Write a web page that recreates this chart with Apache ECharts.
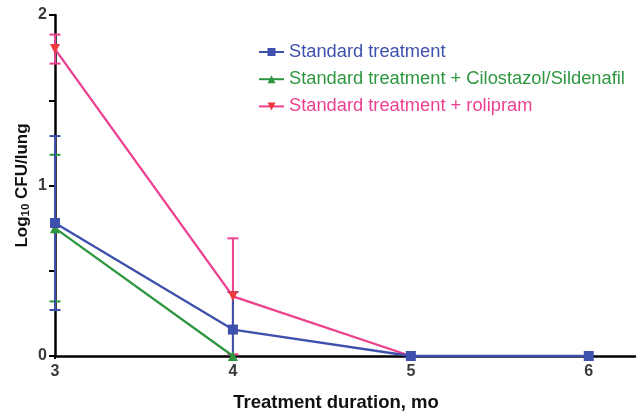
<!DOCTYPE html>
<html><head><meta charset="utf-8">
<script src="https://cdn.jsdelivr.net/npm/echarts@6/dist/echarts.min.js"></script>
<style>html,body{margin:0;padding:0;background:#fff}#c{width:643px;height:413px}</style>
</head><body><div id="c"></div>
<script>
const months = [3, 4, 5, 6];
const seriesNames = ['Standard treatment', 'Standard treatment + Cilostazol/Sildenafil', 'Standard treatment + rolipram'];
const stdMean = [0.78, 0.155, 0, 0];
const stdErr = [0.51, 0.22, 0, 0];
const ciloMean = [0.75, 0, null, null];
const ciloErr = [0.43, 0, null, null];
const roliMean = [1.80, 0.35, 0, null];
const roliErr = [0.085, 0.34, 0, null];
const xTicks = [3, 4, 5, 6];
const yTicks = [0, 0.5, 1, 1.5, 2];
const yLabels = [0, 1, 2];

const colors = ['#3d50ac', '#2f9640', '#ec3f8f'];
const markerColors = ['#3d50ac', '#2f9640', '#ee3a3f'];

function pts(mean) { return months.map((m, i) => mean[i] == null ? [m, null] : [m, mean[i]]); }
function errData(mean, err) {
  const out = [];
  months.forEach((m, i) => {
    if (mean[i] == null || !err[i]) return;
    out.push([m, Math.max(0, mean[i] - err[i]), mean[i] + err[i]]);
  });
  return out;
}
function errSeries(mean, err, color, z) {
  return {
    type: 'custom', z: z, silent: true,
    data: errData(mean, err),
    encode: { x: 0, y: [1, 2] },
    renderItem: function (params, api) {
      const lo = api.coord([api.value(0), api.value(1)]);
      const hi = api.coord([api.value(0), api.value(2)]);
      const hw = 5.5;
      const children = [
        { type: 'line', shape: { x1: hi[0], y1: hi[1], x2: lo[0], y2: lo[1] }, style: { stroke: color, lineWidth: 2 } },
        { type: 'line', shape: { x1: hi[0] - hw, y1: hi[1], x2: hi[0] + hw, y2: hi[1] }, style: { stroke: color, lineWidth: 2 } }
      ];
      if (api.value(1) > 0.001) {
        children.push({ type: 'line', shape: { x1: lo[0] - hw, y1: lo[1], x2: lo[0] + hw, y2: lo[1] }, style: { stroke: color, lineWidth: 2 } });
      }
      return { type: 'group', children: children };
    }
  };
}
function lineSeries(name, mean, color, mcolor, symbol, rotate, z) {
  return {
    name: name, type: 'line', z: z, data: pts(mean), connectNulls: false,
    symbol: symbol, symbolSize: 10, symbolRotate: rotate,
    lineStyle: { color: color, width: 2.3 },
    itemStyle: { color: mcolor },
    clip: false, animation: false
  };
}

const chart = echarts.init(document.getElementById('c'));
chart.setOption({
  animation: false,
  textStyle: { fontFamily: 'Liberation Sans, Arial, sans-serif' },
  grid: { left: 55, right: 8, top: 15, bottom: 57, containLabel: false, outerBoundsMode: 'none' },
  legend: {
    data: [
      { name: seriesNames[0], textStyle: { color: colors[0] } },
      { name: seriesNames[1], textStyle: { color: colors[1] } },
      { name: seriesNames[2], textStyle: { color: colors[2] } }
    ],
    orient: 'vertical', left: 253, top: 37, itemGap: 7.2,
    itemWidth: 25, itemHeight: 10,
    textStyle: { fontSize: 18.3, lineHeight: 20, fontFamily: 'Liberation Sans, Arial, sans-serif' }
  },
  xAxis: {
    type: 'value', min: 3, max: 6.26, interval: 1,
    name: 'Treatment duration, mo', nameLocation: 'middle', nameGap: 37, nameMoveOverlap: false,
    nameTextStyle: { fontSize: 18.5, fontWeight: 'bold', color: '#111', padding: [0, 18, 0, 0] },
    axisLine: { onZero: false, lineStyle: { color: '#000', width: 2.5 } },
    axisTick: { show: true, length: 3, customValues: xTicks, lineStyle: { color: '#000', width: 2 } },
    axisLabel: { customValues: xTicks, fontSize: 16, fontWeight: 'bold', color: '#3a3a3a', margin: 8 },
    splitLine: { show: false }
  },
  yAxis: {
    type: 'value', min: 0, max: 2, interval: 0.5,
    name: '{a|Log}{s|10}{a| CFU/lung}', nameLocation: 'middle', nameGap: 23, nameRotate: 90, nameMoveOverlap: false,
    nameTextStyle: { rich: { a: { fontSize: 17, fontWeight: 'bold', color: '#111' }, s: { fontSize: 11.5, fontWeight: 'bold', color: '#111', padding: [8, 0, 0, 0] } } },
    axisLine: { show: true, lineStyle: { color: '#000', width: 2.5 } },
    axisTick: { show: true, length: 6, customValues: yTicks, lineStyle: { color: '#000', width: 2 } },
    axisLabel: { customValues: yLabels, fontSize: 16, fontWeight: 'bold', color: '#3a3a3a', margin: 8 },
    splitLine: { show: false }
  },
  series: [
    errSeries(roliMean, roliErr, colors[2], 3),
    errSeries(ciloMean, ciloErr, colors[1], 4),
    errSeries(stdMean, stdErr, colors[0], 5),
    lineSeries(seriesNames[2], roliMean, colors[2], markerColors[2], 'triangle', 180, 6),
    lineSeries(seriesNames[1], ciloMean, colors[1], markerColors[1], 'triangle', 0, 7),
    lineSeries(seriesNames[0], stdMean, colors[0], markerColors[0], 'rect', 0, 8)
  ]
});
</script></body></html>
